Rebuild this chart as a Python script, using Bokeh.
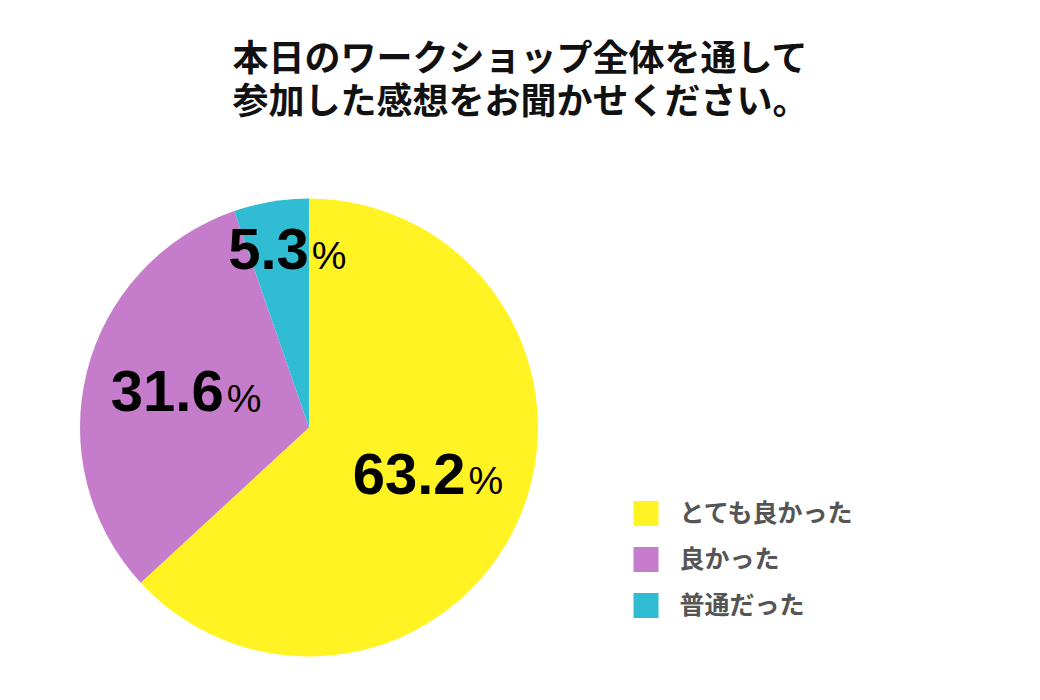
import numpy as np
from bokeh.plotting import figure
from bokeh.models import Range1d, ColumnDataSource
from bokeh.core.properties import value
from bokeh.embed import file_html
from bokeh.resources import INLINE

# ---- data ----
title_lines = ["本日のワークショップ全体を通して", "参加した感想をお聞かせください。"]
categories = ["とても良かった", "良かった", "普通だった"]
percents = [63.2, 31.6, 5.3]
colors = ["#FFF323", "#C57DCB", "#30BCD3"]

# ---- layout ----
W, H = 1024, 684
p = figure(width=W, height=H, x_range=Range1d(0, W), y_range=Range1d(0, H),
           output_backend="svg", toolbar_location=None,
           x_axis_location=None, y_axis_location=None, min_border=0)
p.grid.visible = False
p.outline_line_color = None
p.background_fill_color = "white"
p.border_fill_color = "white"

cx, cy, R = 308.5, 257.0, 229.0
frac = np.array(percents) / np.sum(percents)
ends = np.pi / 2 - 2 * np.pi * np.cumsum(frac)
starts = np.r_[np.pi / 2, ends[:-1]]

pie_src = ColumnDataSource(dict(start=starts, end=ends, color=colors, cat=categories))
p.wedge(x=cx, y=cy, radius=R, start_angle="start", end_angle="end",
        direction="clock", fill_color="color", line_color=None, source=pie_src)

# ---- slice labels ----
NUM_FS, PCT_FS = 58, 39
mids = (starts + ends) / 2
rf = np.where(frac < 0.1, 0.77, 0.56)
lx = cx + rf * R * np.cos(mids)
ly = cy + rf * R * np.sin(mids) + 5
lx = np.where(frac < 0.1, lx + 6, lx)
num_txt = [f"{v:.1f}" for v in percents]
w_num = np.array([sum(0.556 if ch.isdigit() else 0.278 for ch in s) * NUM_FS for s in num_txt])
w_pct = 0.889 * PCT_FS
jx = lx + (w_num - w_pct) / 2

lab_src = ColumnDataSource(dict(x=jx, px=jx + 3, y=ly, py=ly - 0.36 * (NUM_FS - PCT_FS),
                                num=num_txt, pct=["%"] * len(num_txt)))
p.text(x="x", y="y", text="num", source=lab_src, text_align="right",
       text_baseline="middle", text_font=value("Liberation Sans"),
       text_font_style="bold", text_font_size=f"{NUM_FS}px", text_color="#000000")
p.text(x="px", y="py", text="pct", source=lab_src, text_align="left",
       text_baseline="middle", text_font=value("Liberation Sans"),
       text_font_style="normal", text_font_size=f"{PCT_FS}px", text_color="#000000")

# ---- title ----
ttl_src = ColumnDataSource(dict(x=[520, 520], y=[630, 587], t=title_lines))
p.text(x="x", y="y", text="t", source=ttl_src, text_align="center",
       text_baseline="middle", text_font=value("Noto Sans CJK JP"),
       text_font_style="bold", text_font_size="36px", text_color="#111111")

# ---- legend ----
n = len(categories)
leg_y = 171 - 46 * np.arange(n)
leg_src = ColumnDataSource(dict(sx=[645.5] * n, tx=[679] * n, y=leg_y, ty=leg_y + 3,
                                color=colors, cat=categories))
p.rect(x="sx", y="y", width=25, height=25, fill_color="color", line_color=None, source=leg_src)
p.text(x="tx", y="ty", text="cat", source=leg_src, text_align="left",
       text_baseline="middle", text_font=value("Noto Sans CJK JP"),
       text_font_style="bold", text_font_size="25px", text_color="#555555")

open("out.html", "w").write(file_html(p, INLINE))
